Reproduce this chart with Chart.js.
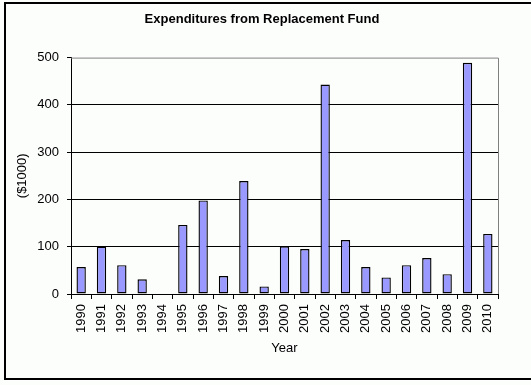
<!DOCTYPE html>
<html>
<head>
<meta charset="utf-8">
<script src="https://cdn.jsdelivr.net/npm/chart.js@4"></script>
<style>
  body { margin: 0; background: #fcfefc; }
  canvas { display: block; }
</style>
</head>
<body>
<canvas id="chart" width="531" height="385"></canvas>
<script>
const years = ['1990', '1991', '1992', '1993', '1994', '1995', '1996', '1997', '1998', '1999', '2000',
               '2001', '2002', '2003', '2004', '2005', '2006', '2007', '2008', '2009', '2010'];
const spending = [57, 100, 61, 31, 0, 146, 198, 38, 239, 16, 101,
                  95, 443, 114, 57, 35, 61, 76, 42, 489, 127];
const yTicks = [0, 100, 200, 300, 400, 500];

const FONT = 'Arial, "Liberation Sans", sans-serif';

// fond, cadre du graphique et bord gris de la zone de tracé
const frame = {
    id: 'frame',
    beforeDraw(chart) {
        const ctx = chart.ctx;
        ctx.save();
        ctx.fillStyle = '#fcfefc';
        ctx.fillRect(0, 0, chart.width, chart.height);
        ctx.strokeStyle = '#000';
        ctx.lineWidth = 2;
        ctx.strokeRect(5, 3, 540, 376);
        ctx.restore();
    },
    beforeDatasetsDraw(chart) {
        const { ctx, chartArea: a } = chart;
        ctx.save();
        ctx.strokeStyle = '#808080';
        ctx.lineWidth = 1;
        ctx.beginPath();
        ctx.moveTo(a.left, a.top + 0.5);
        ctx.lineTo(a.right + 0.5, a.top + 0.5);
        ctx.lineTo(a.right + 0.5, a.bottom);
        ctx.stroke();
        ctx.restore();
    }
};

new Chart(document.getElementById('chart'), {
    type: 'bar',
    data: {
        labels: years,
        datasets: [{
            data: spending,
            backgroundColor: '#9999ff',
            borderColor: '#000',
            borderWidth: 1.4,
            borderSkipped: false,
            inflateAmount: 0,
            barPercentage: 0.46,
            categoryPercentage: 1
        }]
    },
    options: {
        responsive: false,
        animation: false,
        layout: { padding: { left: 26, top: 0, right: 33, bottom: 0 } },
        plugins: {
            legend: { display: false },
            tooltip: { enabled: false },
            title: {
                display: true,
                text: 'Expenditures from Replacement Fund',
                color: '#000',
                font: { family: FONT, size: 13, weight: 'bold' },
                padding: { top: 12, bottom: 30 }
            }
        },
        scales: {
            x: {
                afterFit: s => { s.height = 91; },
                grid: {
                    drawOnChartArea: false,
                    drawTicks: true,
                    tickLength: 5,
                    color: '#000'
                },
                border: { color: '#000' },
                ticks: {
                    color: '#000',
                    font: { family: FONT, size: 13 },
                    minRotation: 90,
                    maxRotation: 90,
                    autoSkip: false,
                    padding: 5
                },
                title: {
                    display: true,
                    text: 'Year',
                    color: '#000',
                    font: { family: FONT, size: 13 },
                    padding: { top: 0, bottom: 29 }
                }
            },
            y: {
                min: yTicks[0],
                max: yTicks[yTicks.length - 1],
                afterFit: s => { s.width = 45; },
                afterBuildTicks: s => { s.ticks = yTicks.map(v => ({ value: v })); },
                grid: {
                    color: c => c.tick && c.tick.value === 500 ? 'rgba(0,0,0,0)' : '#000',
                    tickColor: '#000',
                    tickLength: 4
                },
                border: { color: '#000' },
                ticks: {
                    color: '#000',
                    font: { family: FONT, size: 13 },
                    padding: 8
                },
                title: {
                    display: true,
                    text: '($1000)',
                    color: '#000',
                    font: { family: FONT, size: 13 },
                    padding: { top: -11, bottom: 0 }
                }
            }
        }
    },
    plugins: [frame]
});
</script>
</body>
</html>
